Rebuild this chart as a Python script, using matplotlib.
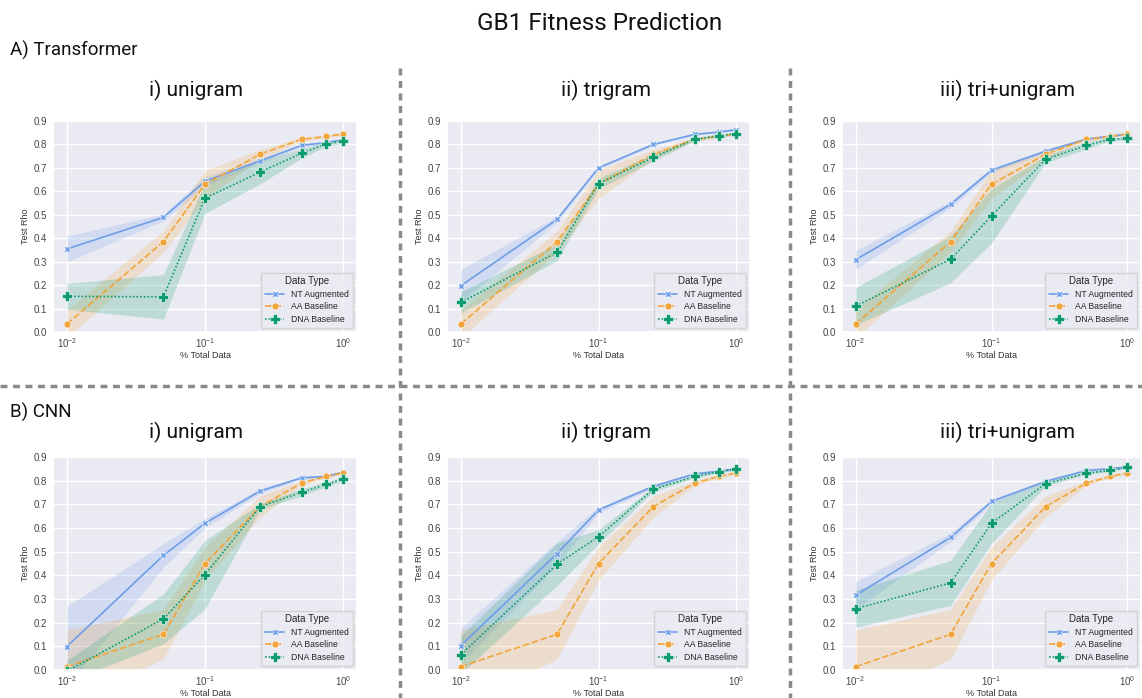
import matplotlib
matplotlib.use("Agg")
import numpy as np
import matplotlib.pyplot as plt
import seaborn as sns
from matplotlib.lines import Line2D

sns.set_theme(style="darkgrid")
plt.rcParams["font.family"] = ["Liberation Sans", "DejaVu Sans"]

# ---------------- data ----------------
frac = [0.01, 0.05, 0.1, 0.25, 0.5, 0.75, 1.0]
series_names = ["NT Augmented", "AA Baseline", "DNA Baseline"]
model_labels = ["A) Transformer", "B) CNN"]
panel_titles = ["i) unigram", "ii) trigram", "iii) tri+unigram"]

# Transformer
tf_aa = [0.034, 0.385, 0.630, 0.758, 0.822, 0.834, 0.845]
tf_aa_err = [0.060, 0.045, 0.060, 0.020, 0.009, 0.006, 0.005]

tf_uni_nt = [0.354, 0.489, 0.643, 0.730, 0.796, 0.808, 0.820]
tf_uni_nt_err = [0.055, 0.015, 0.020, 0.010, 0.006, 0.005, 0.005]
tf_uni_dna = [0.152, 0.150, 0.571, 0.682, 0.762, 0.802, 0.815]
tf_uni_dna_err = [0.055, 0.095, 0.065, 0.050, 0.020, 0.010, 0.010]

tf_tri_nt = [0.197, 0.480, 0.700, 0.800, 0.843, 0.853, 0.863]
tf_tri_nt_err = [0.070, 0.012, 0.006, 0.005, 0.004, 0.004, 0.004]
tf_tri_dna = [0.126, 0.340, 0.633, 0.745, 0.822, 0.838, 0.846]
tf_tri_dna_err = [0.045, 0.035, 0.022, 0.015, 0.006, 0.005, 0.005]

tf_triuni_nt = [0.308, 0.544, 0.690, 0.771, 0.823, 0.835, 0.845]
tf_triuni_nt_err = [0.040, 0.015, 0.010, 0.007, 0.005, 0.004, 0.004]
tf_triuni_dna = [0.110, 0.310, 0.495, 0.737, 0.796, 0.822, 0.826]
tf_triuni_dna_err = [0.080, 0.100, 0.115, 0.015, 0.015, 0.008, 0.006]

# CNN
cnn_aa = [0.014, 0.151, 0.450, 0.690, 0.790, 0.818, 0.833]
cnn_aa_err = [0.155, 0.105, 0.070, 0.045, 0.010, 0.008, 0.005]

cnn_uni_nt = [0.099, 0.484, 0.620, 0.756, 0.812, 0.818, 0.836]
cnn_uni_nt_err = [0.170, 0.050, 0.020, 0.010, 0.006, 0.005, 0.005]
cnn_uni_dna = [-0.005, 0.216, 0.403, 0.690, 0.751, 0.784, 0.807]
cnn_uni_dna_err = [0.045, 0.105, 0.145, 0.012, 0.015, 0.010, 0.008]

cnn_tri_nt = [0.103, 0.492, 0.676, 0.776, 0.829, 0.840, 0.850]
cnn_tri_nt_err = [0.075, 0.050, 0.012, 0.008, 0.005, 0.004, 0.004]
cnn_tri_dna = [0.065, 0.447, 0.563, 0.764, 0.818, 0.838, 0.850]
cnn_tri_dna_err = [0.080, 0.090, 0.030, 0.010, 0.006, 0.005, 0.005]

cnn_triuni_nt = [0.316, 0.560, 0.712, 0.797, 0.843, 0.851, 0.858]
cnn_triuni_nt_err = [0.058, 0.018, 0.010, 0.006, 0.005, 0.004, 0.004]
cnn_triuni_dna = [0.259, 0.368, 0.620, 0.787, 0.832, 0.843, 0.857]
cnn_triuni_dna_err = [0.078, 0.095, 0.085, 0.010, 0.006, 0.005, 0.005]

panels = [
    [  # Transformer row
        [(tf_uni_nt, tf_uni_nt_err), (tf_aa, tf_aa_err), (tf_uni_dna, tf_uni_dna_err)],
        [(tf_tri_nt, tf_tri_nt_err), (tf_aa, tf_aa_err), (tf_tri_dna, tf_tri_dna_err)],
        [(tf_triuni_nt, tf_triuni_nt_err), (tf_aa, tf_aa_err), (tf_triuni_dna, tf_triuni_dna_err)],
    ],
    [  # CNN row
        [(cnn_uni_nt, cnn_uni_nt_err), (cnn_aa, cnn_aa_err), (cnn_uni_dna, cnn_uni_dna_err)],
        [(cnn_tri_nt, cnn_tri_nt_err), (cnn_aa, cnn_aa_err), (cnn_tri_dna, cnn_tri_dna_err)],
        [(cnn_triuni_nt, cnn_triuni_nt_err), (cnn_aa, cnn_aa_err), (cnn_triuni_dna, cnn_triuni_dna_err)],
    ],
]

# ---------------- styling ----------------
colors = ["#6E9EE8", "#F2A53A", "#0E9C6E"]
linestyles = ["-", (0, (4, 1.6)), (0, (1, 1.2))]
markers = ["X", "o", "P"]
msizes = [4.5, 5, 7]

W, H = 1142, 698
fig = plt.figure(figsize=(W / 100, H / 100), dpi=100)

col_lr = [(53, 357), (447, 750), (842, 1141)]
row_tb = [(121, 332), (457, 670)]
title_x = [196, 606, 1007]
title_y = [90, 432]

title_font = ["Roboto", "DejaVu Sans"]

for r in range(2):
    for c in range(3):
        l, rr = col_lr[c]
        t, b = row_tb[r]
        ax = fig.add_axes([l / W, 1 - b / H, (rr - l) / W, (b - t) / H])
        handles = []
        for s in range(3):
            mean, err = panels[r][c][s]
            mean = np.array(mean)
            err = np.array(err)
            ax.fill_between(frac, mean - err, mean + err, color=colors[s],
                            alpha=0.2, linewidth=0)
            ln, = ax.plot(frac, mean, color=colors[s], linestyle=linestyles[s],
                          marker=markers[s], markersize=msizes[s],
                          markeredgecolor="white", markeredgewidth=0.4,
                          linewidth=1.2, label=series_names[s])
            handles.append(ln)
        ax.set_xscale("log")
        ax.set_ylim(0, 0.9)
        ax.set_yticks(np.arange(0, 0.91, 0.1))
        ax.set_yticklabels([f"{v:.1f}" for v in np.arange(0, 0.91, 0.1)])
        ax.tick_params(axis="y", labelsize=7, colors="#444444", pad=4, length=0)
        ax.tick_params(axis="x", labelsize=7, colors="#444444", pad=3, length=0)
        ax.set_ylabel("Test Rho", fontsize=6.5, color="#333333", labelpad=3)
        ax.set_xlabel("% Total Data", fontsize=6.5, color="#333333", labelpad=0.5)
        ax.minorticks_off()
        leg = ax.legend(handles=handles, title="Data Type", loc="lower right",
                        fontsize=6.2, title_fontsize=7, frameon=True,
                        handlelength=2.2, borderpad=0.45, labelspacing=0.4)
        leg.get_frame().set_facecolor("#EAEAF2")
        leg.get_frame().set_edgecolor("#CCCCCC")
        fig.text(title_x[c] / W, 1 - title_y[r] / H, panel_titles[c],
                 ha="center", va="center", fontsize=15, family=title_font,
                 color="#111111")

fig.text(600 / W, 1 - 23 / H, "GB1 Fitness Prediction", ha="center", va="center",
         fontsize=17.5, family=title_font, color="#111111")
fig.text(10 / W, 1 - 50 / H, model_labels[0], ha="left", va="center",
         fontsize=13.5, family=title_font, color="#111111")
fig.text(10 / W, 1 - 412 / H, model_labels[1], ha="left", va="center",
         fontsize=13.5, family=title_font, color="#111111")

# separators
dash = (0, (2, 1.6))
for xv in [400, 790]:
    fig.add_artist(Line2D([xv / W, xv / W], [1 - 68 / H, 0], transform=fig.transFigure,
                          color="#8A8A8A", linewidth=2.5, linestyle=dash))
fig.add_artist(Line2D([0, 1], [1 - 386 / H, 1 - 386 / H], transform=fig.transFigure,
                      color="#8A8A8A", linewidth=2.5, linestyle=dash))

fig.savefig("out.png", dpi=100, facecolor="white")
